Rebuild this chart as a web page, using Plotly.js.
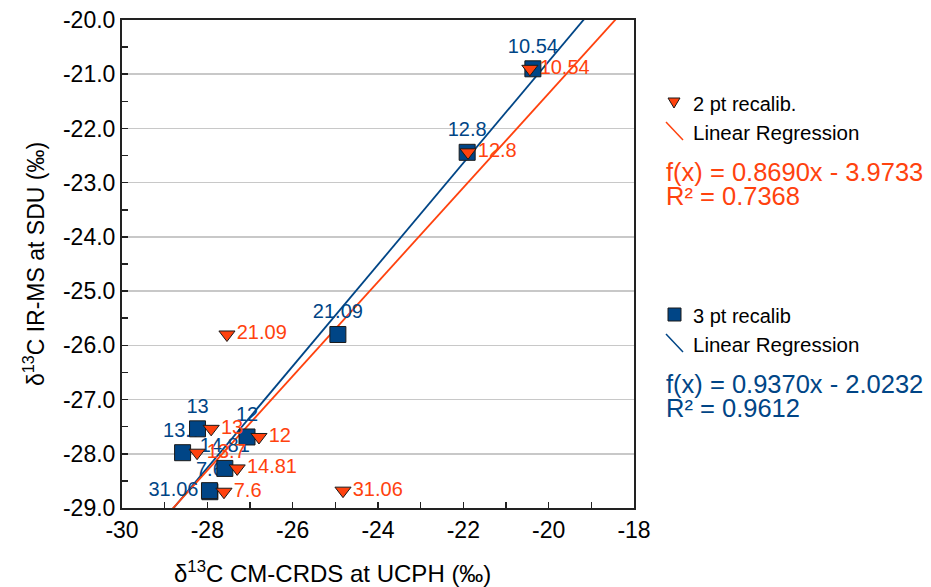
<!DOCTYPE html>
<html><head><meta charset="utf-8">
<script src="https://cdn.plot.ly/plotly-3.0.1.min.js"></script>
<style>html,body{margin:0;padding:0;background:#fff}#chart{width:931px;height:587px}</style>
</head><body><div id="chart"></div>
<script>
// ---- data ----
const sampleLabels = ['10.54', '12.8', '21.09', '13', '12', '13.7', '14.81', '7.6', '31.06'];
const irmsSDU      = [-20.90, -22.44, -25.80, -27.54, -27.69, -27.98, -28.27, -28.70, -28.68];
const crds2pt      = [-20.44, -21.89, -27.54, -27.91, -26.79, -28.24, -27.30, -27.61, -24.82];
const crds3pt      = [-20.37, -21.91, -24.94, -28.23, -27.07, -28.58, -27.59, -27.94, -27.95];
const seriesNames  = ['2 pt recalib.', '3 pt recalib'];
const regSlope     = [0.8690, 0.9370];
const regIntercept = [-3.9733, -2.0232];
const regR2        = [0.7368, 0.9612];
const xTickVals    = [-30, -28, -26, -24, -22, -20, -18];
const xTickText    = ['-30', '-28', '-26', '-24', '-22', '-20', '-18'];
const yTickVals    = [-29, -28, -27, -26, -25, -24, -23, -22, -21, -20];
const yTickText    = ['-29.0', '-28.0', '-27.0', '-26.0', '-25.0', '-24.0', '-23.0', '-22.0', '-21.0', '-20.0'];
const xTitle = 'δ<sup>13</sup>C CM-CRDS at UCPH (‰)';
const yTitle = 'δ<sup>13</sup>C IR-MS at SDU (‰)';
const xRange = [-30, -18];
const yRange = [-29, -20];

// ---- styles ----
const RED = '#ff420e', BLUE = '#004586';
const FONT = '"Liberation Sans", Arial, sans-serif';
const blueTextPos = sampleLabels.map(l => l === '31.06' ? 'middle left' : 'top center');

function fitLine(i) {
  return xRange.map(x => regSlope[i] * x + regIntercept[i]);
}

const traces = [
  {x: xRange, y: fitLine(1), mode: 'lines', line: {color: BLUE, width: 1.8}, hoverinfo: 'skip'},
  {x: xRange, y: fitLine(0), mode: 'lines', line: {color: RED, width: 1.8}, hoverinfo: 'skip'},
  // blue labels (drawn beneath markers)
  {x: crds3pt, y: irmsSDU, mode: 'markers+text', text: sampleLabels, textposition: blueTextPos,
   marker: {symbol: 'square', size: 16, color: 'rgba(0,0,0,0)'},
   textfont: {family: FONT, size: 20, color: BLUE}, cliponaxis: false, hoverinfo: 'skip'},
  {x: crds3pt, y: irmsSDU, mode: 'markers', name: seriesNames[1],
   marker: {symbol: 'square', size: 16, color: BLUE, line: {color: '#1a1a1a', width: 1}}, cliponaxis: false},
  {x: crds2pt, y: irmsSDU, mode: 'markers+text', name: seriesNames[0], text: sampleLabels, textposition: 'middle right',
   marker: {symbol: 'triangle-down', size: 14, color: RED, line: {color: '#1a1a1a', width: 1}},
   textfont: {family: FONT, size: 20, color: RED}, cliponaxis: false}
];

// pixel -> paper helpers for the hand-built legend
const L = 122, R = 634, T = 20, B = 508;
const PX = p => (p - L) / (R - L);
const PY = p => (B - p) / (B - T);

function fmtEq(i) {
  const s = regIntercept[i] < 0 ? ' - ' : ' + ';
  return 'f(x) = ' + regSlope[i].toFixed(4) + 'x' + s + Math.abs(regIntercept[i]).toFixed(4);
}

const ann = [];
const shapes = [];
function legendBlock(i, top, color, sym) {
  if (sym === 'tri') {
    shapes.push({type: 'path', xref: 'paper', yref: 'paper',
      path: `M ${PX(668)} ${PY(top - 4)} L ${PX(680)} ${PY(top - 4)} L ${PX(674)} ${PY(top + 6)} Z`,
      fillcolor: color, line: {color: '#1a1a1a', width: 1}});
  } else {
    shapes.push({type: 'rect', xref: 'paper', yref: 'paper',
      x0: PX(668), x1: PX(681), y0: PY(top - 6), y1: PY(top + 7),
      fillcolor: color, line: {color: '#1a1a1a', width: 1}});
  }
  shapes.push({type: 'line', xref: 'paper', yref: 'paper',
    x0: PX(666), y0: PY(top + 20), x1: PX(683), y1: PY(top + 38), line: {color: color, width: 1.5}});
  ann.push({xref: 'paper', yref: 'paper', x: PX(691), y: PY(top + 2), xanchor: 'left', yanchor: 'middle',
    text: seriesNames[i], showarrow: false, font: {family: FONT, size: 20, color: '#000'}});
  ann.push({xref: 'paper', yref: 'paper', x: PX(691), y: PY(top + 30), xanchor: 'left', yanchor: 'middle',
    text: 'Linear Regression', showarrow: false, font: {family: FONT, size: 20.5, color: '#000'}});
  ann.push({xref: 'paper', yref: 'paper', x: PX(664), y: PY(top + 70), xanchor: 'left', yanchor: 'middle',
    text: fmtEq(i), showarrow: false, font: {family: FONT, size: 25.5, color: color}});
  ann.push({xref: 'paper', yref: 'paper', x: PX(664), y: PY(top + 94), xanchor: 'left', yanchor: 'middle',
    text: 'R² = ' + regR2[i].toFixed(4), showarrow: false, font: {family: FONT, size: 25.5, color: color}});
}
legendBlock(0, 102, RED, 'tri');
legendBlock(1, 314, BLUE, 'sq');

// x-axis title (offset left of plot centre as in the reference)
ann.push({xref: 'paper', yref: 'paper', x: PX(332), y: PY(572), xanchor: 'center', yanchor: 'middle',
  text: xTitle, showarrow: false, font: {family: FONT, size: 24, color: '#000'}});

const layout = {
  width: 931, height: 587,
  margin: {l: L, r: 931 - R, t: T, b: 587 - B, pad: 0},
  paper_bgcolor: '#fff', plot_bgcolor: '#fff',
  showlegend: false,
  font: {family: FONT, size: 22, color: '#000'},
  xaxis: {
    range: xRange, tickmode: 'array', tickvals: xTickVals, ticktext: xTickText,
    ticks: 'inside', ticklen: 6, tickwidth: 1.5, tickcolor: '#222',
    minor: {tickmode: 'linear', tick0: -30, dtick: 1, ticks: 'inside', ticklen: 6, tickwidth: 1.5, tickcolor: '#222', showgrid: false},
    showgrid: false, zeroline: false, showline: true, linecolor: '#222', linewidth: 2, mirror: true,
    tickfont: {family: FONT, size: 23, color: '#000'}
  },
  yaxis: {
    range: yRange, tickmode: 'array', tickvals: yTickVals, ticktext: yTickText,
    ticks: 'inside', ticklen: 6, tickwidth: 1.5, tickcolor: '#222',
    minor: {tickmode: 'linear', tick0: -29, dtick: 0.5, ticks: 'inside', ticklen: 6, tickwidth: 1.5, tickcolor: '#222', showgrid: false},
    showgrid: true, gridcolor: '#c8c8c8', gridwidth: 1.5,
    zeroline: false, showline: true, linecolor: '#222', linewidth: 2, mirror: true,
    tickfont: {family: FONT, size: 23, color: '#000'},
    title: {text: yTitle, font: {family: FONT, size: 23, color: '#000'}, standoff: 12}
  },
  shapes: shapes,
  annotations: ann
};

Plotly.newPlot('chart', traces, layout, {displayModeBar: false, staticPlot: true});
</script></body></html>
